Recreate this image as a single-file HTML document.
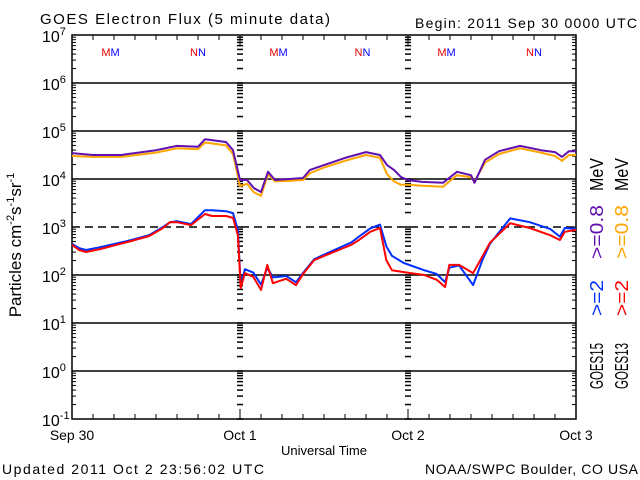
<!DOCTYPE html>
<html><head><meta charset="utf-8"><style>
html,body{margin:0;padding:0;background:#fff;}
svg{display:block;font-family:"Liberation Sans",sans-serif;}
</style></head><body>
<svg id="chart" width="640" height="480" viewBox="0 0 640 480"></svg>
<script>
// ---- data ----
const dayLabels = ["Sep 30", "Oct 1", "Oct 2", "Oct 3"];
const decadeExps = [-1, 0, 1, 2, 3, 4, 5, 6, 7];
// >=0.8 MeV series (log10 flux), hours since Sep 30 00:00
const hoursLow = [0,3,7,12,15,18,19,22,23,24,25,26,27,28,29,31,33,34,36,39,42,44,45,46,47,48,50,53,55,57,57.5,59,61,64,67,69,70,71,72];
const g15Low = [4.54,4.50,4.50,4.60,4.69,4.67,4.83,4.77,4.60,3.98,3.98,3.81,3.73,4.15,3.98,4.00,4.02,4.19,4.29,4.44,4.56,4.50,4.29,4.19,4.04,3.98,3.94,3.92,4.15,4.08,3.92,4.40,4.58,4.69,4.60,4.56,4.46,4.58,4.58];
const g13Low = [4.48,4.46,4.46,4.55,4.64,4.62,4.76,4.70,4.52,3.85,3.90,3.72,3.65,4.10,3.95,3.96,3.98,4.12,4.24,4.38,4.50,4.44,4.10,3.95,3.88,3.88,3.86,3.84,4.08,4.04,3.95,4.34,4.52,4.64,4.55,4.48,4.38,4.50,4.50];
// >=2 MeV series
const hoursHigh = [0,1,2,4,8,11,13,14,15,17,19,20,22,23,23.7,24.1,24.7,25.9,27,27.9,28.7,30.6,32,33.1,34.6,36.4,38.1,39.9,41,42.6,44,44.9,45.7,47.4,50.3,52.1,53.3,53.9,55.3,57.3,58.6,59.7,62.6,65.4,68.3,69.7,70.4,72];
const g15High = [2.65,2.56,2.52,2.58,2.71,2.83,3.00,3.10,3.12,3.06,3.35,3.35,3.33,3.29,2.94,1.78,2.12,2.05,1.80,2.15,1.95,1.98,1.85,2.06,2.33,2.45,2.56,2.68,2.80,2.97,3.05,2.60,2.40,2.25,2.10,2.02,1.85,2.15,2.20,1.79,2.30,2.65,3.18,3.10,2.96,2.80,2.98,2.96];
const g13High = [2.63,2.52,2.48,2.54,2.69,2.81,2.98,3.10,3.10,3.04,3.27,3.23,3.23,3.19,2.83,1.73,2.04,1.96,1.69,2.21,1.83,1.92,1.79,2.04,2.31,2.42,2.52,2.63,2.73,2.90,2.98,2.31,2.10,2.06,2.00,1.90,1.75,2.21,2.21,2.04,2.38,2.67,3.08,2.98,2.83,2.73,2.90,2.94];
const markerHours = [5.5, 18, 29.5, 41.5, 53.5, 66];
const markerText = ["MM","NN","MM","NN","MM","NN"];

// ---- layout ----
const X0=72, X1=576, Y0=35, Y1=419;
const xs = h => X0 + (X1-X0)*h/72;
const ys = lg => Y0 + (7-lg)*48;
const NS="http://www.w3.org/2000/svg";
const svg=document.getElementById('chart');
function mk(tag, attrs, parent){const e=document.createElementNS(NS,tag);for(const k in attrs)e.setAttribute(k,attrs[k]);(parent||svg).appendChild(e);return e;}

// title
let t=mk('text',{x:40,y:24,'font-size':15,fill:'#000',textLength:290});
t.textContent="GOES Electron Flux (5 minute data)";


t=mk('text',{x:637,y:28,'font-size':14,fill:'#000','text-anchor':'end',textLength:222});
t.textContent="Begin: 2011 Sep 30 0000 UTC";



// grid lines
decadeExps.forEach(e=>{
  if(e===-1||e===7) return;
  const l=mk('line',{x1:X0,x2:X1,y1:ys(e),y2:ys(e),stroke:'#000','stroke-width':1.5,'stroke-dasharray':e===3?'8,5':''});
  
  
});
// minor log ticks
[X0, xs(24), xs(48), X1].forEach((x,i)=>{
  for(let e=-1;e<7;e++){
    for(let m=1;m<10;m++){
      const y=ys(e+Math.log10(m));
      const len = m===1?8:4;
      if(i===0) mk('line',{x1:x,x2:x+len,y1:y,y2:y,stroke:'#000','stroke-width':1});
      else if(i===3) mk('line',{x1:x-len,x2:x,y1:y,y2:y,stroke:'#000','stroke-width':1});
      else mk('line',{x1:x-3,x2:x+3,y1:y,y2:y,stroke:'#000','stroke-width':1.5});
    }
  }
});
// x ticks
for(let h=0;h<=72;h+=3){
  const x=xs(h); const len=(h%24===0)?10:5;
  mk('line',{x1:x,x2:x,y1:Y0,y2:Y0+len,stroke:'#000'});
  mk('line',{x1:x,x2:x,y1:Y1,y2:Y1-len,stroke:'#000'});
}
// frame
const fr=mk('rect',{x:X0,y:Y0,width:X1-X0,height:Y1-Y0,fill:'none',stroke:'#000','stroke-width':1.5});



// y tick labels
decadeExps.forEach(e=>{
  const tx=mk('text',{x:42,y:ys(e)+7,'font-size':16,fill:'#000'});
  
  
  tx.innerHTML='10<tspan dy="-7" font-size="11">'+e+'</tspan>';
});
// x tick labels
dayLabels.forEach((d,i)=>{
  const tx=mk('text',{x:xs(i*24),y:440,'font-size':14,fill:'#000','text-anchor':'middle'});
  tx.textContent=d;
  
  
});
t=mk('text',{x:324,y:455,'font-size':13,fill:'#000','text-anchor':'middle'});
t.textContent="Universal Time";


t=mk('text',{x:2,y:474,'font-size':14,fill:'#000',textLength:262});
t.textContent="Updated 2011 Oct  2 23:56:02 UTC";


t=mk('text',{x:638,y:474,'font-size':14,fill:'#000','text-anchor':'end',textLength:213});
t.textContent="NOAA/SWPC Boulder, CO USA";


// y title
t=mk('text',{x:0,y:0,'font-size':17,fill:'#000','text-anchor':'middle',transform:'translate(21,245) rotate(-90)'});
t.innerHTML='Particles cm<tspan dy="-7" font-size="11">-2</tspan><tspan dy="7">s</tspan><tspan dy="-7" font-size="11">-1</tspan><tspan dy="7">sr</tspan><tspan dy="-7" font-size="11">-1</tspan>';



// markers
markerHours.forEach((h,i)=>{
  const tx=mk('text',{x:xs(h),y:56,'font-size':11,'text-anchor':'middle'});
  tx.innerHTML='<tspan fill="#e00">'+markerText[i][0]+'</tspan><tspan fill="#00f">'+markerText[i][1]+'</tspan>';
  
  
});

// series
function linePath(hs,vs){
  let d='';
  for(let i=0;i<hs.length;i++){
    const x=xs(hs[i]).toFixed(1), y=ys(vs[i]).toFixed(1);
    d+=(i===0?'M':' L')+x+','+y;
  }
  return d;
}
const series=[
  [hoursLow,g13Low,'#ffa500','series-goes13-0.8mev'],
  [hoursLow,g15Low,'#6010b0','series-goes15-0.8mev'],
  [hoursHigh,g15High,'#0030ff','series-goes15-2mev'],
  [hoursHigh,g13High,'#ff0000','series-goes13-2mev']
];
series.forEach(s=>{
  const p=mk('path',{d:linePath(s[0],s[1]),fill:'none',stroke:s[2],'stroke-width':2,'stroke-linejoin':'round'});
  
  
});

// right legend
function leg(x,yBottom,len,txt,color,name){
  const tx=mk('text',{x:0,y:0,'font-size':18,fill:color,textLength:len,lengthAdjust:'spacingAndGlyphs',transform:'translate('+x+','+yBottom+') rotate(-90)'});
  tx.textContent=txt;
  
  
}
leg(603,389,46,'GOES15','#000','legend-goes15');
leg(603,316,36,'>=2','#0030ff','legend-goes15-2mev');
leg(603,259,54,'>=0.8','#6010b0','legend-goes15-0.8mev');
leg(603,191,33,'MeV','#000','legend-goes15-unit');
leg(628,389,46,'GOES13','#000','legend-goes13');
leg(628,316,36,'>=2','#ff0000','legend-goes13-2mev');
leg(628,259,54,'>=0.8','#ffa500','legend-goes13-0.8mev');
leg(628,191,33,'MeV','#000','legend-goes13-unit');
</script>
</body></html>
